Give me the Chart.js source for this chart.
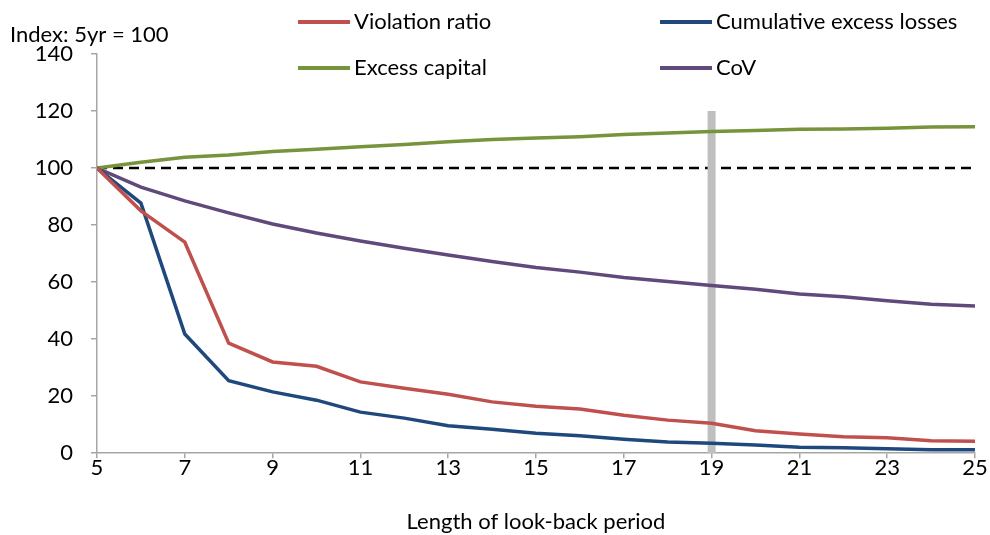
<!DOCTYPE html>
<html>
<head>
<meta charset="utf-8">
<script src="https://cdn.jsdelivr.net/npm/chart.js@4.4.0/dist/chart.umd.min.js"></script>
<style>
  html, body { margin: 0; padding: 0; background: #fff; }
  #wrap { width: 990px; height: 535px; }
</style>
</head>
<body>
<div id="wrap"><canvas id="lookbackChart"></canvas></div>
<script>
// look-back length in years
const periods = [5,6,7,8,9,10,11,12,13,14,15,16,17,18,19,20,21,22,23,24,25];

const violationRatio = [100,85,74,38.6,32,30.5,25,22.8,20.7,18,16.5,15.5,13.3,11.6,10.5,7.9,6.7,5.8,5.4,4.4,4.2];
const cumExcessLosses = [100,87.7,41.8,25.4,21.5,18.6,14.4,12.3,9.6,8.4,7,6.1,4.9,3.9,3.5,2.9,2.1,1.9,1.6,1.2,1.2];
const excessCapital = [100,102,103.8,104.6,105.8,106.6,107.5,108.3,109.2,110,110.5,111,111.8,112.3,112.8,113.2,113.6,113.7,114,114.4,114.5];
const coV = [100,93.3,88.5,84.3,80.4,77.2,74.4,71.9,69.5,67.2,65.1,63.5,61.6,60.2,58.8,57.5,55.8,54.9,53.5,52.2,51.6];

const baseLevel = 100;
const markerPeriod = 19;
const markerTop = 120;

const yTicks = [0,20,40,60,80,100,120,140];

const FONT = "Lato, 'Open Sans', sans-serif";
const FSIZE = 22;

function pts(vals) {
    return vals.map((v, i) => ({ x: periods[i], y: v }));
}

// legend drawn as a 2x2 grid, plus the index note top-left
const legendGrid = {
    id: "legendGrid",
    afterDraw(chart) {
        const ctx = chart.ctx;
        const items = chart.data.datasets.filter(d => d.inLegend);
        const cols = [298, 660];
        const rows = [22, 68];
        ctx.save();
        ctx.font = FSIZE + "px " + FONT;
        ctx.textBaseline = "middle";
        ctx.fillStyle = "#000";
        items.forEach((d, i) => {
            const x = cols[i % 2];
            const y = rows[Math.floor(i / 2)];
            ctx.strokeStyle = d.borderColor;
            ctx.lineWidth = 4;
            ctx.beginPath();
            ctx.moveTo(x, y);
            ctx.lineTo(x + 52, y);
            ctx.stroke();
            ctx.fillText(d.label, x + 56, y);
        });
        ctx.fillText("Index: 5yr = 100", 10, 35);
        ctx.restore();
    }
};

const lookbackChart = new Chart(
document.getElementById("lookbackChart"),
{
    type: "line",

    data: {
        datasets: [
            {
                label: "Violation ratio",
                data: pts(violationRatio),
                borderColor: "#c0504d",
                borderWidth: 3.5,
                inLegend: true,
                order: 1
            },
            {
                label: "Cumulative excess losses",
                data: pts(cumExcessLosses),
                borderColor: "#1f497d",
                borderWidth: 3.5,
                inLegend: true,
                order: 1
            },
            {
                label: "Excess capital",
                data: pts(excessCapital),
                borderColor: "#77933c",
                borderWidth: 3.5,
                inLegend: true,
                order: 1
            },
            {
                label: "CoV",
                data: pts(coV),
                borderColor: "#604a7b",
                borderWidth: 3.5,
                inLegend: true,
                order: 1
            },
            {
                label: "marker",
                data: [{ x: markerPeriod, y: 0 }, { x: markerPeriod, y: markerTop }],
                borderColor: "#bfbfbf",
                borderWidth: 8,
                borderCapStyle: "butt",
                order: 2
            },
            {
                label: "base",
                data: [{ x: periods[0], y: baseLevel }, { x: periods[periods.length - 1], y: baseLevel }],
                borderColor: "#000",
                borderWidth: 2.5,
                borderDash: [10, 6],
                order: 3
            }
        ]
    },

    options: {
        responsive: true,
        maintainAspectRatio: false,
        animation: false,
        layout: {
            padding: { top: 54, right: 15, bottom: 0, left: 0 }
        },
        elements: {
            point: { radius: 0 },
            line: { tension: 0 }
        },
        plugins: {
            legend: { display: false },
            tooltip: { enabled: false }
        },
        scales: {
            x: {
                type: "linear",
                min: 5,
                max: 25,
                border: { color: "#a6a6a6", width: 1.5 },
                grid: { drawOnChartArea: false, color: "#a6a6a6", tickLength: 5, lineWidth: 1.5 },
                ticks: {
                    stepSize: 2,
                    color: "#000",
                    font: { family: FONT, size: FSIZE },
                    padding: -3
                },
                title: {
                    display: true,
                    text: "Length of look-back period",
                    color: "#000",
                    font: { family: FONT, size: FSIZE },
                    padding: { top: 30, bottom: 0 }
                }
            },
            y: {
                min: 0,
                max: 140,
                afterBuildTicks(scale) {
                    scale.ticks = yTicks.map(v => ({ value: v }));
                },
                afterFit(scale) {
                    scale.width = 97;
                },
                border: { color: "#a6a6a6", width: 1.5 },
                grid: { drawOnChartArea: false, color: "#a6a6a6", tickLength: 6, lineWidth: 1.5 },
                ticks: {
                    color: "#000",
                    font: { family: FONT, size: FSIZE },
                    padding: 18
                }
            }
        }
    },

    plugins: [legendGrid]
});
</script>
</body>
</html>
